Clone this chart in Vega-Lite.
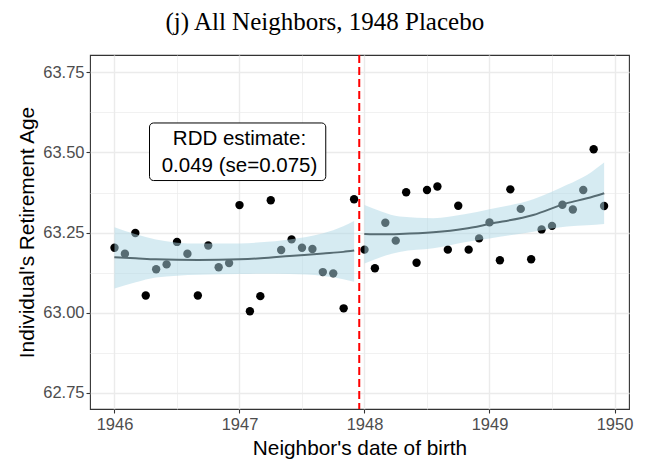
{
  "$schema": "https://vega.github.io/schema/vega-lite/v6.json",
  "autosize": {"type": "none"},
  "padding": {"left": 90, "top": 55, "right": 16, "bottom": 52},
  "width": 539,
  "height": 354,
  "background": "white",
  "title": {
    "text": "(j) All Neighbors, 1948 Placebo",
    "font": "Liberation Serif",
    "fontSize": 25,
    "fontWeight": "normal",
    "color": "black",
    "anchor": "middle",
    "frame": "bounds",
    "baseline": "alphabetic",
    "offset": -1
  },
  "config": {
    "view": {"stroke": "#333333", "strokeWidth": 1.1},
    "axis": {
      "domain": false,
      "labelFont": "Liberation Sans",
      "titleFont": "Liberation Sans",
      "labelFontSize": 16.5,
      "titleFontSize": 20.8,
      "labelColor": "#4D4D4D",
      "titleColor": "black",
      "titleFontWeight": "normal",
      "tickColor": "#333333",
      "tickSize": 4,
      "tickWidth": 1.1,
      "gridColor": "#EBEBEB"
    }
  },
  "datasets": {
    "pts": [
      {"x": 1946.0000, "y": 63.203}, {"x": 1946.0833, "y": 63.184}, {"x": 1946.1667, "y": 63.249},
      {"x": 1946.2500, "y": 63.054}, {"x": 1946.3333, "y": 63.136}, {"x": 1946.4167, "y": 63.151},
      {"x": 1946.5000, "y": 63.221}, {"x": 1946.5833, "y": 63.184}, {"x": 1946.6667, "y": 63.054},
      {"x": 1946.7500, "y": 63.210}, {"x": 1946.8333, "y": 63.142}, {"x": 1946.9167, "y": 63.155},
      {"x": 1947.0000, "y": 63.336}, {"x": 1947.0833, "y": 63.005}, {"x": 1947.1667, "y": 63.052},
      {"x": 1947.2500, "y": 63.351}, {"x": 1947.3333, "y": 63.196}, {"x": 1947.4167, "y": 63.229},
      {"x": 1947.5000, "y": 63.203}, {"x": 1947.5833, "y": 63.199}, {"x": 1947.6667, "y": 63.127},
      {"x": 1947.7500, "y": 63.123}, {"x": 1947.8333, "y": 63.014}, {"x": 1947.9167, "y": 63.354},
      {"x": 1948.0000, "y": 63.197}, {"x": 1948.0833, "y": 63.139}, {"x": 1948.1667, "y": 63.281},
      {"x": 1948.2500, "y": 63.225}, {"x": 1948.3333, "y": 63.376}, {"x": 1948.4167, "y": 63.156},
      {"x": 1948.5000, "y": 63.383}, {"x": 1948.5833, "y": 63.394}, {"x": 1948.6667, "y": 63.197},
      {"x": 1948.7500, "y": 63.334}, {"x": 1948.8333, "y": 63.197}, {"x": 1948.9167, "y": 63.232},
      {"x": 1949.0000, "y": 63.282}, {"x": 1949.0833, "y": 63.164}, {"x": 1949.1667, "y": 63.385},
      {"x": 1949.2500, "y": 63.324}, {"x": 1949.3333, "y": 63.167}, {"x": 1949.4167, "y": 63.260},
      {"x": 1949.5000, "y": 63.271}, {"x": 1949.5833, "y": 63.337}, {"x": 1949.6667, "y": 63.322},
      {"x": 1949.7500, "y": 63.383}, {"x": 1949.8333, "y": 63.510}, {"x": 1949.9167, "y": 63.333}
    ],
    "fit": [
      {"seg": "L", "x": 1946.000, "lo": 63.076, "fit": 63.173, "hi": 63.267},
      {"seg": "L", "x": 1946.170, "lo": 63.095, "fit": 63.170, "hi": 63.245},
      {"seg": "L", "x": 1946.330, "lo": 63.110, "fit": 63.167, "hi": 63.229},
      {"seg": "L", "x": 1946.670, "lo": 63.119, "fit": 63.165, "hi": 63.216},
      {"seg": "L", "x": 1947.000, "lo": 63.121, "fit": 63.167, "hi": 63.216},
      {"seg": "L", "x": 1947.170, "lo": 63.122, "fit": 63.170, "hi": 63.220},
      {"seg": "L", "x": 1947.400, "lo": 63.121, "fit": 63.177, "hi": 63.229},
      {"seg": "L", "x": 1947.670, "lo": 63.115, "fit": 63.185, "hi": 63.248},
      {"seg": "L", "x": 1947.830, "lo": 63.105, "fit": 63.190, "hi": 63.270},
      {"seg": "L", "x": 1947.917, "lo": 63.097, "fit": 63.194, "hi": 63.286},
      {"seg": "R", "x": 1948.000, "lo": 63.154, "fit": 63.246, "hi": 63.336},
      {"seg": "R", "x": 1948.140, "lo": 63.175, "fit": 63.245, "hi": 63.315},
      {"seg": "R", "x": 1948.280, "lo": 63.190, "fit": 63.246, "hi": 63.300},
      {"seg": "R", "x": 1948.550, "lo": 63.201, "fit": 63.251, "hi": 63.295},
      {"seg": "R", "x": 1948.800, "lo": 63.220, "fit": 63.262, "hi": 63.307},
      {"seg": "R", "x": 1949.000, "lo": 63.232, "fit": 63.277, "hi": 63.323},
      {"seg": "R", "x": 1949.350, "lo": 63.253, "fit": 63.305, "hi": 63.354},
      {"seg": "R", "x": 1949.620, "lo": 63.269, "fit": 63.342, "hi": 63.399},
      {"seg": "R", "x": 1949.780, "lo": 63.273, "fit": 63.357, "hi": 63.430},
      {"seg": "R", "x": 1949.917, "lo": 63.277, "fit": 63.373, "hi": 63.469}
    ],
    "cut": [{"x": 1947.958}],
    "box": [{"x1": 1946.28, "x2": 1947.69, "y1": 63.4125, "y2": 63.592}],
    "lab": [{"x": 1947.0, "y": 63.5, "text": ["RDD estimate:", "0.049 (se=0.075)"]}]
  },
  "layer": [
    {
      "data": {"name": "pts"},
      "mark": {"type": "point", "filled": true, "color": "black", "opacity": 1, "size": 70},
      "encoding": {
        "x": {
          "field": "x", "type": "quantitative",
          "scale": {"domain": [1945.804, 1950.116], "nice": false, "zero": false},
          "axis": {
            "title": "Neighbor's date of birth",
            "values": [1946, 1946.5, 1947, 1947.5, 1948, 1948.5, 1949, 1949.5, 1950],
            "labelExpr": "datum.value % 1 === 0 ? format(datum.value, 'd') : ''",
            "tickOpacity": {"condition": {"test": "datum.value % 1 !== 0", "value": 0}, "value": 1},
            "gridWidth": {"condition": {"test": "datum.value % 1 !== 0", "value": 0.7}, "value": 1.4},
            "labelPadding": 3,
            "titlePadding": 6,
            "labelFlush": false
          }
        },
        "y": {
          "field": "y", "type": "quantitative",
          "scale": {"domain": [62.70, 63.804], "nice": false, "zero": false},
          "axis": {
            "title": "Individual's Retirement Age",
            "values": [62.75, 62.875, 63, 63.125, 63.25, 63.375, 63.5, 63.625, 63.75],
            "labelExpr": "abs(datum.value*4 - round(datum.value*4)) > 0.01 ? '' : format(datum.value, '.2f')",
            "tickOpacity": {"condition": {"test": "abs(datum.value*4 - round(datum.value*4)) > 0.01", "value": 0}, "value": 1},
            "gridWidth": {"condition": {"test": "abs(datum.value*4 - round(datum.value*4)) > 0.01", "value": 0.7}, "value": 1.4},
            "labelPadding": 2,
            "titlePadding": 5,
            "labelFlush": false
          }
        }
      }
    },
    {
      "data": {"name": "fit"},
      "mark": {"type": "line", "color": "black", "strokeWidth": 2, "interpolate": "monotone"},
      "encoding": {
        "x": {"field": "x", "type": "quantitative"},
        "y": {"field": "fit", "type": "quantitative"},
        "detail": {"field": "seg", "type": "nominal"}
      }
    },
    {
      "data": {"name": "fit"},
      "mark": {"type": "area", "color": "#ADD8E6", "opacity": 0.5, "interpolate": "monotone"},
      "encoding": {
        "x": {"field": "x", "type": "quantitative"},
        "y": {"field": "lo", "type": "quantitative"},
        "y2": {"field": "hi"},
        "detail": {"field": "seg", "type": "nominal"}
      }
    },
    {
      "data": {"name": "cut"},
      "mark": {"type": "rule", "color": "#FF0000", "strokeWidth": 2, "strokeDash": [8, 4]},
      "encoding": {
        "x": {"field": "x", "type": "quantitative"}
      }
    },
    {
      "data": {"name": "box"},
      "mark": {"type": "rect", "fill": "white", "stroke": "black", "strokeWidth": 1, "cornerRadius": 4},
      "encoding": {
        "x": {"field": "x1", "type": "quantitative"},
        "x2": {"field": "x2"},
        "y": {"field": "y1", "type": "quantitative"},
        "y2": {"field": "y2"}
      }
    },
    {
      "data": {"name": "lab"},
      "mark": {"type": "text", "font": "Liberation Sans", "fontSize": 20.5, "color": "black", "align": "center", "baseline": "middle", "lineHeight": 27, "dy": -13.5},
      "encoding": {
        "x": {"field": "x", "type": "quantitative"},
        "y": {"field": "y", "type": "quantitative"},
        "text": {"field": "text", "type": "nominal"}
      }
    }
  ]
}
